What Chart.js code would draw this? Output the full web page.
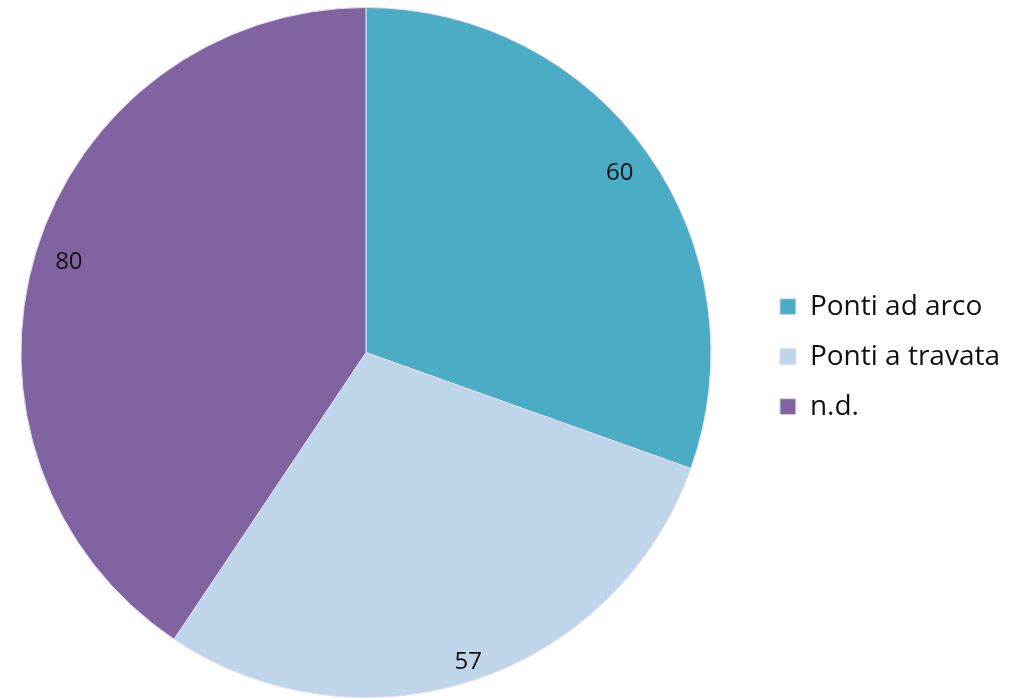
<!DOCTYPE html>
<html>
<head>
<meta charset="utf-8">
<script src="https://cdn.jsdelivr.net/npm/chart.js@4.4.0/dist/chart.umd.min.js"></script>
<style>
  html, body { margin: 0; padding: 0; background: #fff; overflow: hidden; }
  #wrap { width: 1062px; height: 698px; margin-left: -26px; }
</style>
</head>
<body>
<div id="wrap"><canvas id="grafico_ponti"></canvas></div>
<script>
const categorie = ['Ponti ad arco', 'Ponti a travata', 'n.d.'];
const valori = [60, 57, 80];
const colori = ['#4BACC6', '#BFD5EA', '#8064A2'];

const fonte = '"Open Sans", Lato, sans-serif';

// larghezza della legenda, per lasciare la torta a sinistra
const mis = document.createElement('canvas').getContext('2d');
mis.font = '28px ' + fonte;
const testoMax = Math.max(...categorie.map(c => mis.measureText(c).width));
const larghLegenda = 22 + 16 + 14 + testoMax + 10;
const destra = Math.round(278 - larghLegenda);

// etichette dei valori dentro le fette
const etichette = {
  id: 'etichette',
  afterDatasetsDraw(chart) {
    const ctx = chart.ctx;
    const meta = chart.getDatasetMeta(0);
    ctx.save();
    ctx.font = '24px ' + fonte;
    ctx.fillStyle = '#111';
    ctx.textAlign = 'center';
    ctx.textBaseline = 'middle';
    meta.data.forEach((arc, i) => {
      const p = arc.getProps(['x', 'y', 'startAngle', 'endAngle', 'outerRadius'], true);
      const a = (p.startAngle + p.endAngle) / 2;
      const r = p.outerRadius * (i === 1 ? 0.945 : 0.9);
      ctx.fillText(String(valori[i]), p.x + Math.cos(a) * r, p.y + Math.sin(a) * r);
    });
    ctx.restore();
  }
};

new Chart(document.getElementById('grafico_ponti').getContext('2d'), {
  type: 'pie',
  data: {
    labels: categorie,
    datasets: [{
      data: valori,
      backgroundColor: colori,
      borderColor: '#E4DCEE',
      borderWidth: 1
    }]
  },
  options: {
    responsive: true,
    maintainAspectRatio: false,
    animation: false,
    layout: { padding: { left: 0, right: destra, top: 7, bottom: 0 } },
    plugins: {
      tooltip: { enabled: false },
      legend: {
        position: 'right',
        title: { display: true, text: ' ', padding: 0, font: { size: 7 } },
        labels: {
          boxWidth: 16,
          boxHeight: 16,
          padding: 22,
          color: '#111',
          font: { family: fonte, size: 28 }
        }
      }
    }
  },
  plugins: [etichette]
});
</script>
</body>
</html>
